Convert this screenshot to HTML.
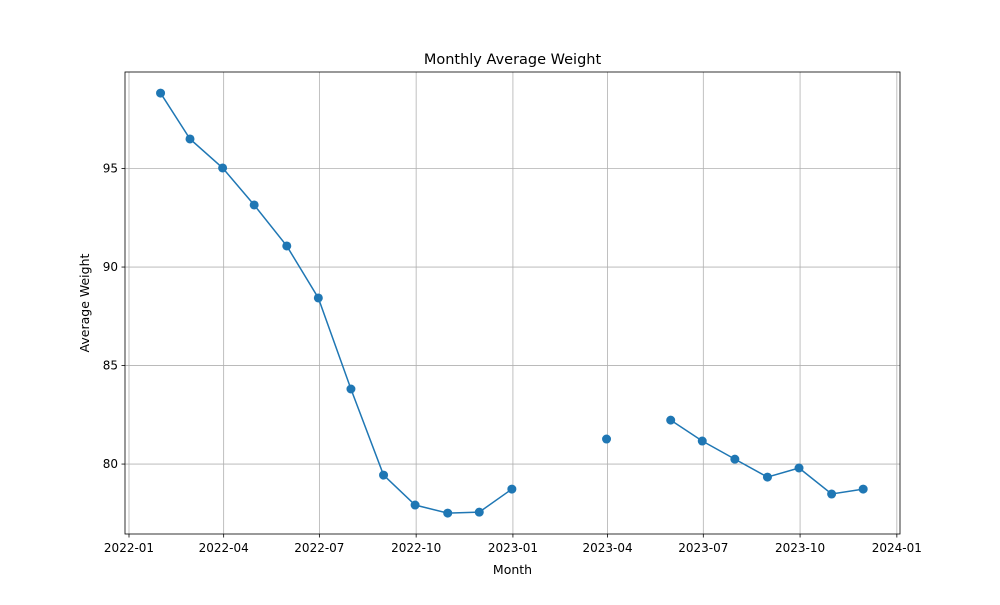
<!DOCTYPE html>
<html><head><meta charset="utf-8"><style>
body{margin:0;background:#fff;font-family:"Liberation Sans","DejaVu Sans",sans-serif;}
text{font-family:"DejaVu Sans","Liberation Sans",sans-serif;}
</style></head><body>
<svg id="chart" width="1000" height="600" xmlns="http://www.w3.org/2000/svg"></svg>
<script>
const dates=["2022-01-31","2022-02-28","2022-03-31","2022-04-30","2022-05-31","2022-06-30","2022-07-31","2022-08-31","2022-09-30","2022-10-31","2022-11-30","2022-12-31","2023-01-31","2023-02-28","2023-03-31","2023-04-30","2023-05-31","2023-06-30","2023-07-31","2023-08-31","2023-09-30","2023-10-31","2023-11-30"];
const weights=[98.83,96.5,95.03,93.15,91.07,88.43,83.81,79.44,77.92,77.51,77.56,78.73,null,null,81.27,null,82.23,81.17,80.25,79.34,79.8,78.48,78.73];
const xTicks=["2022-01","2022-04","2022-07","2022-10","2023-01","2023-04","2023-07","2023-10","2024-01"];
const yTicks=[80,85,90,95];
const L=125,R=900,T=72,B=534;
const d0=Date.UTC(2022,0,1);
function days(s){const p=s.split("-").map(Number);return (Date.UTC(p[0],p[1]-1,p[2]||1)-d0)/864e5;}
const xMin=-3.8,xMax=733.0,yMin=76.45,yMax=99.9;
const X=d=>L+(days(d)-xMin)/(xMax-xMin)*(R-L);
const Y=v=>B-(v-yMin)/(yMax-yMin)*(B-T);
const svg=document.getElementById('chart');const NS="http://www.w3.org/2000/svg";
function el(t,a,p){const e=document.createElementNS(NS,t);for(const k in a)e.setAttribute(k,a[k]);(p||svg).appendChild(e);return e;}
const grid=el('g',{});


xTicks.forEach(t=>{const x=X(t+"-01");
el('line',{x1:x,x2:x,y1:T,y2:B,stroke:'#b0b0b0','stroke-width':0.8},grid);
el('line',{x1:x,x2:x,y1:B,y2:B+3.5,stroke:'#000','stroke-width':0.8});
const tx=el('text',{x:x,y:B+18,'font-size':12,'text-anchor':'middle'});tx.textContent=t;

});
yTicks.forEach(v=>{const y=Y(v);
el('line',{x1:L,x2:R,y1:y,y2:y,stroke:'#b0b0b0','stroke-width':0.8},grid);
el('line',{x1:L-3.5,x2:L,y1:y,y2:y,stroke:'#000','stroke-width':0.8});
const tx=el('text',{x:L-7,y:y+4,'font-size':12,'text-anchor':'end'});tx.textContent=v;

});
let seg=[];const segs=[];
dates.forEach((d,i)=>{if(weights[i]==null){if(seg.length)segs.push(seg);seg=[];}else seg.push([X(d),Y(weights[i])]);});
if(seg.length)segs.push(seg);
segs.forEach(s=>{if(s.length>1){const p=el('polyline',{points:s.map(q=>q.join(',')).join(' '),fill:'none',stroke:'#1f77b4','stroke-width':1.5});

}});
dates.forEach((d,i)=>{if(weights[i]==null)return;const c=el('circle',{cx:X(d),cy:Y(weights[i]),r:4.5,fill:'#1f77b4'});

});
const fr=el('rect',{x:L,y:T,width:R-L,height:B-T,fill:'none',stroke:'#000','stroke-width':0.8});


const ti=el('text',{x:(L+R)/2,y:64,'font-size':14.5,'text-anchor':'middle'});ti.textContent='Monthly Average Weight';


const xl=el('text',{x:(L+R)/2,y:574,'font-size':12.5,'text-anchor':'middle'});xl.textContent='Month';


const yl=el('text',{x:89,y:(T+B)/2,'font-size':12.5,'text-anchor':'middle',transform:`rotate(-90 89 ${(T+B)/2})`});yl.textContent='Average Weight';


</script>
</body></html>
